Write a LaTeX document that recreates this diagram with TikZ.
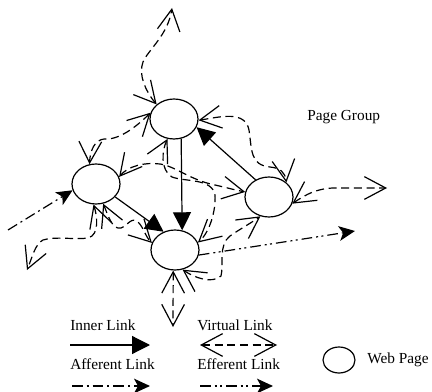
\documentclass[tikz,border=0pt]{standalone}
\usepackage{fontspec}
\setmainfont{Liberation Serif}
\usetikzlibrary{arrows,arrows.meta,shapes.geometric}

\tikzset{
page/.style={draw, ellipse, line width=0.9pt, minimum width=36pt, minimum height=30pt, inner sep=0pt},
inner/.style={line width=0.9pt, -{Triangle[length=13.5pt,width=13.5pt]}},
virtual/.style={line width=0.9pt, dash pattern=on 6pt off 3.5pt,
  {Straight Barb[length=16pt,width=17pt,line width=0.9pt]}-{Straight Barb[length=16pt,width=17pt,line width=0.9pt]}},
afferent/.style={line width=0.9pt, dash pattern=on 8pt off 3pt on 1.5pt off 3pt, -{Stealth[length=12pt,width=11pt,inset=3pt]}},
efferent/.style={line width=0.9pt, dash pattern=on 8pt off 3pt on 1.5pt off 2.5pt on 1.5pt off 3pt, -{Stealth[length=12pt,width=11pt,inset=3pt]}},
txt/.style={anchor=west, inner sep=0pt, font=\fontsize{11.5}{13}\selectfont}
}

\begin{document}
\begin{tikzpicture}[x=0.75pt,y=0.75pt,yscale=-1,xscale=1]
\useasboundingbox (0,0) rectangle (432,392);

% Web pages
\node [page] (pageT) at (174,119) {};
\node [page] (pageL) at (96,184) {};
\node [page] (pageB) at (175,250) {};
\node [page] (pageR) at (269,197) {};

% Free ends
\coordinate (outTop) at (172,8);
\coordinate (outRight) at (387,188);
\coordinate (outBL) at (27,270);
\coordinate (outBottom) at (173,327);
\coordinate (inLeft) at (8,230);
\coordinate (outEff) at (355,231);

% Inner links
\draw [inner] (pageT.-70) -- (pageB.70);
\draw [inner] (pageL.-34) -- (pageB.122);
\draw [inner] (pageR.128) -- (pageT.-20);

% Virtual links
\draw [virtual] (pageT.140) .. controls (146,92) and (138,75) .. (143,62) .. controls (148,50) and (168,35) .. (outTop);
\draw [virtual] (pageT.165) .. controls (130,133) and (115,140) .. (104,139) .. controls (95,140) and (90,150) .. (pageL.108);
\draw [virtual] (pageL.17) .. controls (128,166) and (145,162) .. (160,164) .. controls (175,166) and (190,180) .. (215,185) .. controls (228,188) and (235,190) .. (pageR.168);
\draw [virtual] (pageT.-108) .. controls (162,150) and (160,170) .. (172,177) .. controls (185,182) and (212,178) .. (215,195) .. controls (216,210) and (210,232) .. (pageB.18);
\draw [virtual] (pageT.-3) .. controls (220,117) and (245,110) .. (249,130) .. controls (252,150) and (250,165) .. (270,167) .. controls (280,168) and (285,172) .. (pageR.40);
\draw [virtual] (pageR.-16) .. controls (305,195) and (318,187) .. (340,188) -- (outRight);
\draw [virtual] (pageB.-69) .. controls (195,278) and (212,284) .. (221,276) .. controls (224,265) and (218,245) .. (230,236) .. controls (240,229) and (248,225) .. (pageR.-114);
\draw [virtual] (pageL.-97) .. controls (97,215) and (100,235) .. (88,238) .. controls (75,240) and (55,236) .. (43,240) .. controls (35,244) and (32,258) .. (outBL);
\draw [virtual] (pageL.-70) .. controls (108,215) and (112,230) .. (121,228) .. controls (127,226) and (132,216) .. (138,222) .. controls (144,228) and (145,236) .. (pageB.163);
\draw [virtual] (pageB.-95) -- (outBottom);

% Afferent and efferent links
\draw [afferent] (inLeft) -- (pageL.-165);
\draw [efferent] (pageB.-12) -- (outEff);

% Labels
\node [txt] (group) at (307,117) {Page Group};

% Legend
\node [txt] (lgInner) at (70,325) {Inner Link};
\node [txt] (lgVirtual) at (197,325) {Virtual Link};
\node [txt] (lgAff) at (70,364) {Afferent Link};
\node [txt] (lgEff) at (197,364) {Efferent Link};
\coordinate (lgInnerA) at (70,345);
\coordinate (lgInnerB) at (150,345);
\coordinate (lgVirtA) at (200,345);
\coordinate (lgVirtB) at (277,345);
\coordinate (lgAffA) at (72,386);
\coordinate (lgAffB) at (150,386);
\coordinate (lgEffA) at (200,386);
\coordinate (lgEffB) at (273,386);
\draw [inner] (lgInnerA) -- (lgInnerB);
\draw [virtual] (lgVirtA) -- (lgVirtB);
\draw [afferent] (lgAffA) -- (lgAffB);
\draw [efferent] (lgEffA) -- (lgEffB);
\node [page, minimum width=24pt, minimum height=19.5pt] (lgPage) at (339,360) {};
\node [txt] (lgPageText) at (367,360) {Web Page};

\end{tikzpicture}
\end{document}
